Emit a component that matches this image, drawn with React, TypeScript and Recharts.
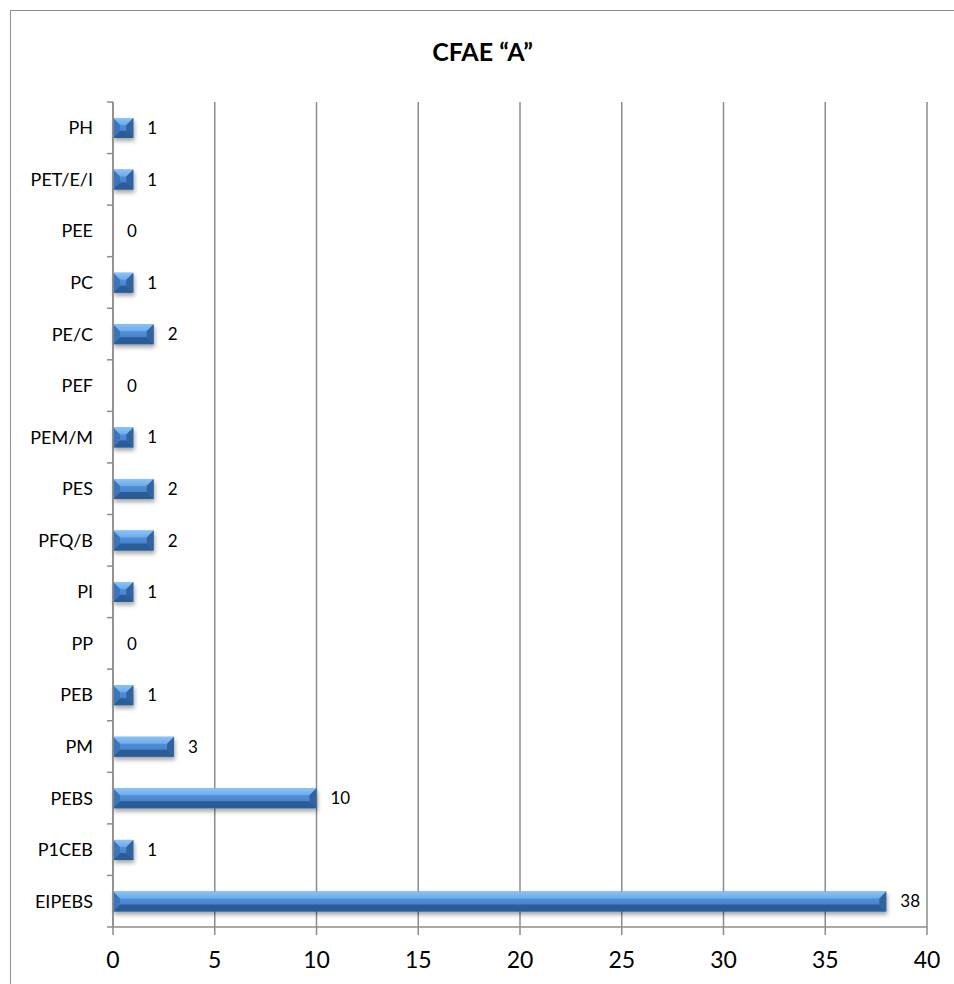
import React from 'react'
import { BarChart, Bar, XAxis, YAxis, CartesianGrid, LabelList } from 'recharts'

const categories = ['PH', 'PET/E/I', 'PEE', 'PC', 'PE/C', 'PEF', 'PEM/M', 'PES', 'PFQ/B', 'PI', 'PP', 'PEB', 'PM', 'PEBS', 'P1CEB', 'EIPEBS']
const counts = [1, 1, 0, 1, 2, 0, 1, 2, 2, 1, 0, 1, 3, 10, 1, 38]
const xTicks = [0, 5, 10, 15, 20, 25, 30, 35, 40]

const data = categories.map((name, i) => ({ name, value: counts[i] }))

const FONT = 'Lato, "Open Sans", sans-serif'
const GRID = '#8c8c8c'
const PLOT_H = 825
const HALF_STEP = PLOT_H / categories.length / 2

function BevelBar(props: any) {
    const { x, y, width, height } = props
    if (!width || width <= 0) return null
    const b = Math.min(7, width / 2, height / 2)
    const r = x + width
    const btm = y + height
    return (
        <g filter="url(#barShadow)">
            <rect x={x} y={y} width={width} height={height} fill="url(#faceGrad)" />
            {/* top face */}
            <polygon points={`${x},${y} ${r},${y} ${r - b},${y + b} ${x + b},${y + b}`} fill="url(#topGrad)" />
            {/* bottom face */}
            <polygon points={`${x},${btm} ${r},${btm} ${r - b},${btm - b} ${x + b},${btm - b}`} fill="#2c5b97" />
            {/* left face */}
            <polygon points={`${x},${y} ${x + b},${y + b} ${x + b},${btm - b} ${x},${btm}`} fill="#3b74ba" />
            {/* right face */}
            <polygon points={`${r},${y} ${r - b},${y + b} ${r - b},${btm - b} ${r},${btm}`} fill="#32639f" />
        </g>
    )
}

function CategoryTick(props: any) {
    const { x, y, payload, index } = props
    const ax = x + 14
    const last = index === categories.length - 1
    return (
        <g>
            <text x={x} y={y} dy="0.36em" textAnchor="end" fontSize={18} fontFamily={FONT} fill="#000">
                {payload.value}
            </text>
            <line x1={ax} x2={ax + 6} y1={y - HALF_STEP} y2={y - HALF_STEP} stroke={GRID} strokeWidth={1.5} />
            {last && <line x1={ax} x2={ax + 6} y1={y + HALF_STEP} y2={y + HALF_STEP} stroke={GRID} strokeWidth={1.5} />}
        </g>
    )
}

export default function App() {
    return (
        <div style={{ position: 'fixed', left: 0, top: 0, width: 954, height: 984, overflow: 'hidden', background: '#fff' }}>
            <div
                style={{
                    position: 'absolute',
                    left: 10,
                    top: 10,
                    width: 960,
                    height: 1000,
                    borderLeft: `1px solid ${GRID}`,
                    borderTop: `1px solid ${GRID}`,
                }}
            >
                <div
                    style={{
                        position: 'absolute',
                        top: 28,
                        left: 0,
                        width: 943,
                        textAlign: 'center',
                        fontFamily: FONT,
                        fontWeight: 700,
                        fontSize: 25,
                        lineHeight: '25px',
                        color: '#000',
                    }}
                >
                    CFAE “A”
                </div>
                <BarChart
                    width={943}
                    height={973}
                    data={data}
                    layout="vertical"
                    margin={{ top: 91, right: 27, bottom: 7, left: 0 }}
                >
                    <defs>
                        <linearGradient id="faceGrad" x1="0" y1="0" x2="0" y2="1">
                            <stop offset="0%" stopColor="#5e9de4" />
                            <stop offset="100%" stopColor="#3a76c0" />
                        </linearGradient>
                        <linearGradient id="topGrad" x1="0" y1="0" x2="0" y2="1">
                            <stop offset="0%" stopColor="#8cc3f4" />
                            <stop offset="100%" stopColor="#6aaaec" />
                        </linearGradient>
                        <filter id="barShadow" x="-10%" y="-30%" width="130%" height="180%">
                            <feDropShadow dx="1" dy="3" stdDeviation="2" floodColor="#000" floodOpacity="0.35" />
                        </filter>
                    </defs>
                    <CartesianGrid horizontal={false} stroke={GRID} strokeWidth={1.5} />
                    <XAxis
                        type="number"
                        domain={[0, 40]}
                        ticks={xTicks}
                        height={50}
                        axisLine={{ stroke: GRID, strokeWidth: 1.5 }}
                        tickLine={{ stroke: GRID, strokeWidth: 1.5 }}
                        tickSize={8}
                        tickMargin={17}
                        tick={{ fontSize: 23, fill: '#000', fontFamily: FONT }}
                        interval={0}
                    />
                    <YAxis
                        type="category"
                        dataKey="name"
                        width={102}
                        axisLine={{ stroke: GRID, strokeWidth: 1.5 }}
                        tickLine={false}
                        tickSize={6}
                        tickMargin={14}
                        tick={<CategoryTick />}
                        interval={0}
                    />
                    <Bar dataKey="value" barSize={20} shape={<BevelBar />} isAnimationActive={false}>
                        <LabelList
                            dataKey="value"
                            position="right"
                            offset={14}
                            fontSize={17}
                            fontFamily={FONT}
                            fill="#000"
                        />
                    </Bar>
                </BarChart>
            </div>
        </div>
    )
}
